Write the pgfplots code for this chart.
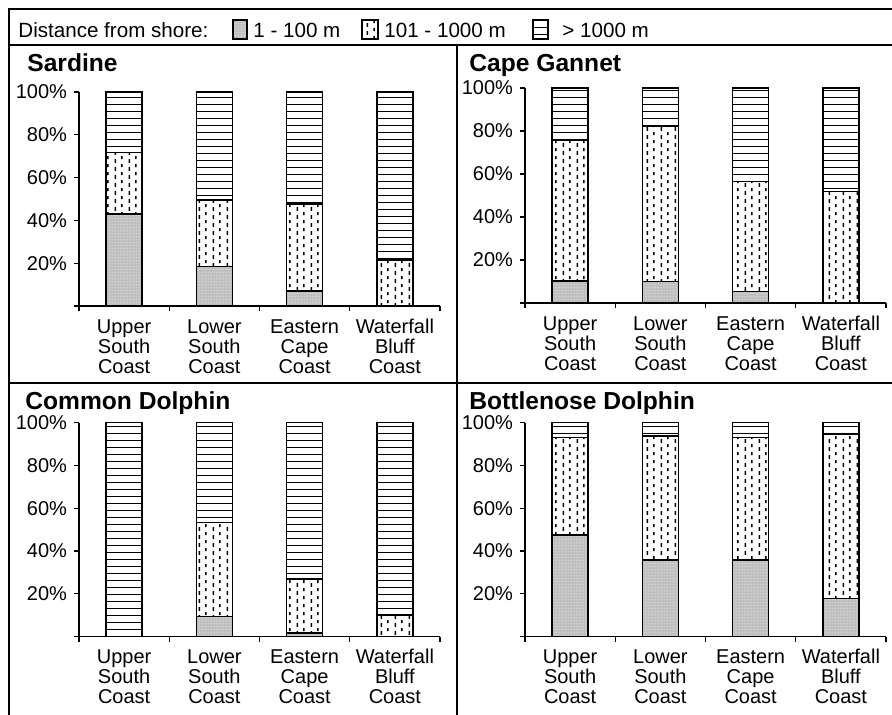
\documentclass[border=0pt]{standalone}
\usepackage{fontspec}
\setmainfont{Liberation Sans}
\usepackage{pgfplots}
\pgfplotsset{compat=1.18}
\usetikzlibrary{patterns}

\pgfdeclarepatternformonly{hl}{\pgfqpoint{-1pt}{0pt}}{\pgfqpoint{101pt}{3.5pt}}{\pgfqpoint{100pt}{3.5pt}}{%
  \pgfsetlinewidth{0.6pt}%
  \pgfpathmoveto{\pgfqpoint{-1pt}{0.75pt}}%
  \pgfpathlineto{\pgfqpoint{101pt}{0.75pt}}%
  \pgfusepath{stroke}}
\pgfdeclarepatternformonly{vd}{\pgfpointorigin}{\pgfqpoint{7pt}{4pt}}{\pgfqpoint{7pt}{4pt}}{%
  \pgfsetlinewidth{0.8pt}%
  \pgfpathmoveto{\pgfqpoint{1.75pt}{0.1pt}}\pgfpathlineto{\pgfqpoint{1.75pt}{2.1pt}}%
  \pgfpathmoveto{\pgfqpoint{5.25pt}{2.1pt}}\pgfpathlineto{\pgfqpoint{5.25pt}{3.9pt}}%
  \pgfusepath{stroke}}
\pgfdeclarepatternformonly{dd}{\pgfpointorigin}{\pgfqpoint{1.5pt}{1.5pt}}{\pgfqpoint{1.5pt}{1.5pt}}{%
  \pgfpathcircle{\pgfqpoint{0.75pt}{0.75pt}}{0.33pt}%
  \pgfusepath{fill}}

\tikzset{
  pA/.style={draw=black, line width=0.75pt, preaction={fill=gray!50}, pattern=dd, pattern color=white},
  pB/.style={draw=black, line width=0.75pt, preaction={fill=white}, pattern=vd, pattern color=black},
  pC/.style={draw=black, line width=0.75pt, preaction={fill=white}, pattern=hl, pattern color=black},
}

\newcommand{\fl}{\rule{0pt}{7.6pt}}
\pgfplotsset{panel/.style={
  scale only axis, width=180.5pt, height=107pt, anchor=south west,
  ybar stacked, bar width=18pt,
  xmin=-0.5, xmax=3.5, ymin=0, ymax=100, enlargelimits=false,
  axis x line*=bottom, axis y line*=left,
  axis line style={black, line width=0.6pt},
  xtick={-0.5,0.5,1.5,2.5,3.5}, x tick label as interval,
  xticklabels={{\fl Upper\\South\\Coast},{\fl Lower\\South\\Coast},{\fl Eastern\\Cape\\Coast},{\fl Waterfall\\Bluff\\Coast},{}},
  ytick={0,20,40,60,80,100}, yticklabels={{},20\%,40\%,60\%,80\%,100\%},
  tick align=outside, major tick length=2.5pt,
  tick style={black, line width=0.6pt},
  x tick label style={align=center, font=\fontsize{10}{10}\selectfont},
  y tick label style={font=\fontsize{10}{10}\selectfont},
  clip=false,
}}

\begin{document}
\begin{tikzpicture}
\useasboundingbox (0,0) rectangle (446pt,357.5pt);
\fill[white] (0,0) rectangle (446pt,357.5pt);

% frame
\draw[black, line width=0.6pt] (4.5pt,-5pt) -- (4.5pt,353pt) -- (450pt,353pt);
\draw[black, line width=0.6pt] (4.5pt,335pt) -- (450pt,335pt);
\draw[black, line width=0.6pt] (4.5pt,166pt) -- (450pt,166pt);
\draw[black, line width=0.6pt] (228.5pt,335pt) -- (228.5pt,-5pt);

% legend
\node[anchor=base west, inner sep=0pt, font=\fontsize{10.3}{12}\selectfont] at (9pt,338.5pt) {Distance from shore:};
\draw[pA, line width=0.6pt] (116.5pt,338pt) rectangle (123.5pt,347.5pt);
\node[anchor=base west, inner sep=0pt, font=\fontsize{10.3}{12}\selectfont] at (126.5pt,338.5pt) {1 - 100 m};
\draw[pB, line width=0.6pt] (181pt,338pt) rectangle (189pt,347.5pt);
\node[anchor=base west, inner sep=0pt, font=\fontsize{10.3}{12}\selectfont] at (192pt,338.5pt) {101 - 1000 m};
\draw[pC, line width=0.6pt] (266.5pt,338pt) rectangle (274pt,347.5pt);
\node[anchor=base west, inner sep=0pt, font=\fontsize{10.3}{12}\selectfont] at (281pt,338.5pt) {> 1000 m};

% titles
\node[anchor=base west, inner sep=0pt, font=\bfseries\fontsize{12.3}{14}\selectfont] at (13.5pt,321.5pt) {Sardine};
\node[anchor=base west, inner sep=0pt, font=\bfseries\fontsize{12.3}{14}\selectfont] at (234.5pt,321.5pt) {Cape Gannet};
\node[anchor=base west, inner sep=0pt, font=\bfseries\fontsize{12.3}{14}\selectfont] at (12.5pt,152.5pt) {Common Dolphin};
\node[anchor=base west, inner sep=0pt, font=\bfseries\fontsize{12.3}{14}\selectfont] at (234.5pt,152.5pt) {Bottlenose Dolphin};

% Sardine
\begin{axis}[panel, at={(39.5pt,204.5pt)}]
\addplot[pA] coordinates {(0,42.9) (1,18.4) (2,7.0) (3,0)};
\addplot[pB] coordinates {(0,28.8) (1,31.1) (2,40.6) (3,21.5)};
\addplot[pC] coordinates {(0,28.3) (1,50.5) (2,52.4) (3,78.5)};
\end{axis}

% Cape Gannet
\begin{axis}[panel, at={(262.5pt,206pt)}, height=107.5pt]
\addplot[pA] coordinates {(0,10.3) (1,10.1) (2,5.4) (3,0)};
\addplot[pB] coordinates {(0,65.3) (1,72.0) (2,51.1) (3,51.8)};
\addplot[pC] coordinates {(0,24.4) (1,17.9) (2,43.5) (3,48.2)};
\end{axis}

% Common Dolphin
\begin{axis}[panel, at={(39.5pt,39.2pt)}]
\addplot[pA] coordinates {(0,0) (1,9.3) (2,1.6) (3,0)};
\addplot[pB] coordinates {(0,0) (1,44.0) (2,25.2) (3,10.1)};
\addplot[pC] coordinates {(0,100) (1,46.7) (2,73.2) (3,89.9)};
\end{axis}

% Bottlenose Dolphin
\begin{axis}[panel, at={(262.5pt,39.2pt)}]
\addplot[pA] coordinates {(0,47.5) (1,35.8) (2,35.8) (3,17.9)};
\addplot[pB] coordinates {(0,45.6) (1,58.0) (2,57.3) (3,76.8)};
\addplot[pC] coordinates {(0,6.9) (1,6.2) (2,6.9) (3,5.3)};
\end{axis}
\end{tikzpicture}
\end{document}
